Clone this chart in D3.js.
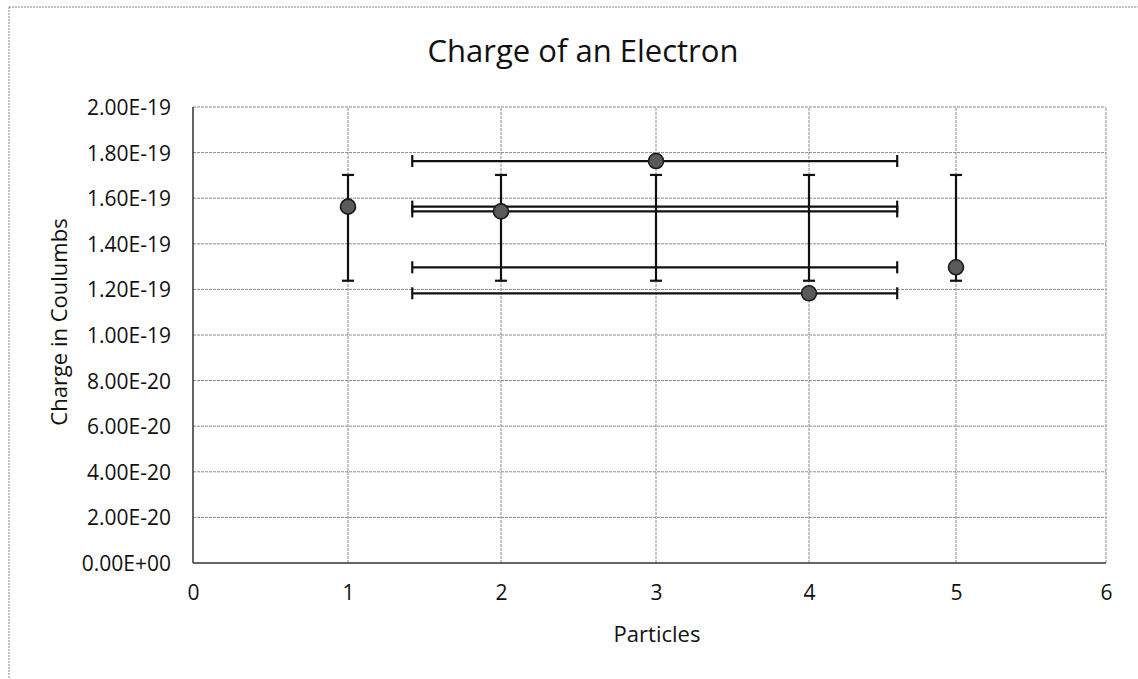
<!DOCTYPE html>
<html>
<head>
<meta charset="utf-8">
<script src="https://cdn.jsdelivr.net/npm/d3@7"></script>
<style>
  body { margin: 0; background: #fff; }
  svg { display: block; font-family: "Open Sans", sans-serif; }
</style>
</head>
<body>
<div id="chart"></div>
<script>
// data
const particles = [1, 2, 3, 4, 5];
const charge = [1.563e-19, 1.542e-19, 1.763e-19, 1.183e-19, 1.297e-19];
const yErrLow = [1.238e-19, 1.238e-19, 1.238e-19, 1.238e-19, 1.238e-19];
const yErrHigh = [1.702e-19, 1.702e-19, 1.702e-19, 1.702e-19, 1.702e-19];
const xErrLow = [1.42, 1.42, 1.42, 1.42, 1.42];
const xErrHigh = [4.60, 4.60, 4.60, 4.60, 4.60];
const xTicks = [0, 1, 2, 3, 4, 5, 6];
const yTicks = [0, 2e-20, 4e-20, 6e-20, 8e-20, 1e-19, 1.2e-19, 1.4e-19, 1.6e-19, 1.8e-19, 2e-19];

const width = 1138;
const height = 679;
const plot = {left: 193, top: 107, bottom: 563};

const points = particles.map((p, i) => ({
  x: p, y: charge[i],
  yLo: yErrLow[i], yHi: yErrHigh[i],
  xLo: xErrLow[i], xHi: xErrHigh[i]
}));

const svg = d3.select('#chart')
              .append('svg')
              .attr('width', width)
              .attr('height', height);

// chart frame (dotted, runs off the right / bottom of the page)
svg.append('rect')
   .attr('x', 9).attr('y', 7)
   .attr('width', 1140).attr('height', 700)
   .attr('fill', 'none')
   .attr('stroke', '#888')
   .attr('stroke-dasharray', '2,1');

// the scan is slightly stretched, so the x scale follows the gridlines
const x = d3.scaleLinear()
            .domain(xTicks)
            .range([193, 348, 501, 656, 809, 956, 1106]);

const y = d3.scaleLinear()
            .domain([0, 2e-19])
            .range([plot.bottom, plot.top]);

const fmt = d => (+d).toExponential(2).toUpperCase().replace(/E([+-])(\d)$/, 'E$10$2');

// gridlines
const grid = svg.append('g').attr('stroke', '#8a8a8a').attr('stroke-width', 1).attr('stroke-dasharray', '3,1');
grid.selectAll('.h')
    .data(yTicks.slice(1))
    .join('line')
    .attr('x1', x(0)).attr('x2', x(6))
    .attr('y1', d => y(d)).attr('y2', d => y(d));
grid.selectAll('.v')
    .data(xTicks.slice(1))
    .join('line')
    .attr('x1', d => x(d)).attr('x2', d => x(d))
    .attr('y1', y(0)).attr('y2', y(2e-19));

// axis lines
svg.append('line')
   .attr('x1', x(0)).attr('x2', x(0))
   .attr('y1', y(0)).attr('y2', y(2e-19))
   .attr('stroke', '#333').attr('stroke-width', 1.5);
svg.append('line')
   .attr('x1', x(0)).attr('x2', x(6))
   .attr('y1', y(0)).attr('y2', y(0))
   .attr('stroke', '#333').attr('stroke-width', 1.5);

// tick labels
svg.append('g')
   .attr('transform', `translate(${x(0) - 22},0)`)
   .call(d3.axisLeft(y).tickValues(yTicks).tickFormat(fmt).tickSize(0).tickPadding(0))
   .call(g => g.select('.domain').remove())
   .call(g => g.selectAll('text')
               .attr('font-family', '"Open Sans", sans-serif')
               .attr('font-size', 21)
               .attr('fill', '#111')
               .attr('dy', '0.36em'));

svg.append('g')
   .attr('transform', `translate(0,${y(0) + 22})`)
   .call(d3.axisBottom(x).tickValues(xTicks).tickFormat(d3.format('d')).tickSize(0).tickPadding(0))
   .call(g => g.select('.domain').remove())
   .call(g => g.selectAll('text')
               .attr('font-family', '"Open Sans", sans-serif')
               .attr('font-size', 21)
               .attr('fill', '#111')
               .attr('dy', '0.72em'));

// error bars
const bars = svg.append('g').attr('stroke', '#111').attr('stroke-width', 2.2);
const cap = 6;

bars.selectAll('.xbar')
    .data(points)
    .join('line')
    .attr('x1', d => x(d.xLo)).attr('x2', d => x(d.xHi))
    .attr('y1', d => y(d.y)).attr('y2', d => y(d.y));
bars.selectAll('.xcapL')
    .data(points)
    .join('line')
    .attr('x1', d => x(d.xLo)).attr('x2', d => x(d.xLo))
    .attr('y1', d => y(d.y) - cap).attr('y2', d => y(d.y) + cap);
bars.selectAll('.xcapR')
    .data(points)
    .join('line')
    .attr('x1', d => x(d.xHi)).attr('x2', d => x(d.xHi))
    .attr('y1', d => y(d.y) - cap).attr('y2', d => y(d.y) + cap);

bars.selectAll('.ybar')
    .data(points)
    .join('line')
    .attr('x1', d => x(d.x)).attr('x2', d => x(d.x))
    .attr('y1', d => y(d.yLo)).attr('y2', d => y(d.yHi));
bars.selectAll('.ycapT')
    .data(points)
    .join('line')
    .attr('x1', d => x(d.x) - cap).attr('x2', d => x(d.x) + cap)
    .attr('y1', d => y(d.yHi)).attr('y2', d => y(d.yHi));
bars.selectAll('.ycapB')
    .data(points)
    .join('line')
    .attr('x1', d => x(d.x) - cap).attr('x2', d => x(d.x) + cap)
    .attr('y1', d => y(d.yLo)).attr('y2', d => y(d.yLo));

// markers
svg.append('g')
   .selectAll('circle')
   .data(points)
   .join('circle')
   .attr('cx', d => x(d.x))
   .attr('cy', d => y(d.y))
   .attr('r', 7.5)
   .attr('fill', '#5a5a5a')
   .attr('stroke', '#1a1a1a')
   .attr('stroke-width', 1.6);

// titles
svg.append('text')
   .attr('x', 583).attr('y', 62)
   .attr('text-anchor', 'middle')
   .attr('font-size', 31)
   .attr('fill', '#111')
   .text('Charge of an Electron');

svg.append('text')
   .attr('transform', 'translate(67,322) rotate(-90)')
   .attr('text-anchor', 'middle')
   .attr('font-size', 22)
   .attr('fill', '#111')
   .text('Charge in Coulumbs');

svg.append('text')
   .attr('x', 657).attr('y', 642)
   .attr('text-anchor', 'middle')
   .attr('font-size', 22)
   .attr('fill', '#111')
   .text('Particles');
</script>
</body>
</html>
